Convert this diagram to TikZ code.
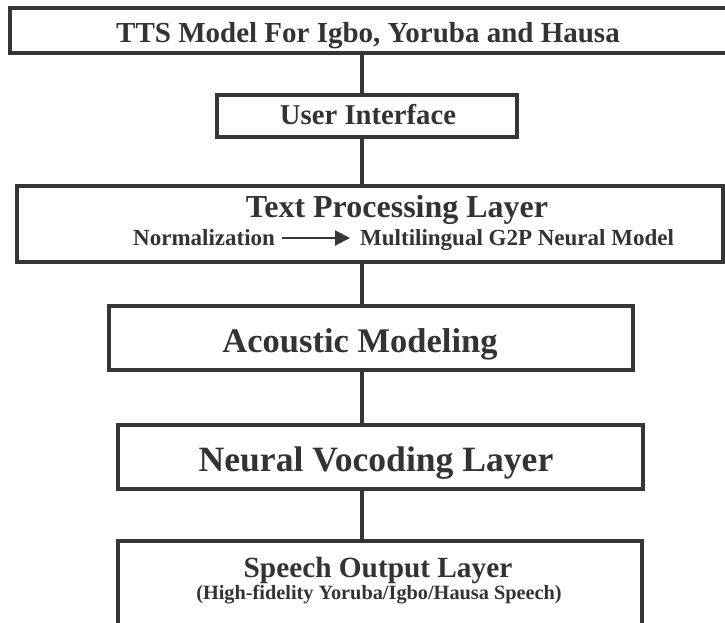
\documentclass[tikz,border=0pt]{standalone}
\usepackage{fontspec}
\setmainfont{Liberation Serif}
\usetikzlibrary{arrows.meta,calc}
\definecolor{ink}{HTML}{333333}
\definecolor{edge}{HTML}{363636}
\newcommand{\fsz}[1]{\fontsize{#1}{#1}\selectfont\bfseries}
\begin{document}
\begin{tikzpicture}[x=1pt,y=-1pt,
  box/.style={draw=edge,line width=3.2pt,fill=white,outer sep=0pt,inner sep=0pt,anchor=north west},
  label/.style={text=ink,inner sep=0pt,anchor=base},
  link/.style={draw=edge,line width=3.2pt}]
  % page
  \fill[white] (0,0) rectangle (725,622);
  \useasboundingbox (0,0) rectangle (725,622);
  \begin{scope}
  \clip (0,0) rectangle (725,622);
  % the stacked layers
  \node[box,minimum width=720pt,minimum height=45pt] (top) at (10,8) {};
  \node[box,minimum width=300pt,minimum height=42pt] (ui) at (217,95) {};
  \node[box,minimum width=706pt,minimum height=76pt] (tp) at (17,186) {};
  \node[box,minimum width=524pt,minimum height=64pt] (am) at (109,306) {};
  \node[box,minimum width=525pt,minimum height=64pt] (nv) at (118,425) {};
  \node[box,minimum width=524pt,minimum height=95pt] (so) at (118,541) {};
  % vertical spine joining the layers
  \coordinate (spine) at (362,0);
  \draw[link] (spine |- top.south) -- (spine |- ui.north);
  \draw[link] (spine |- ui.south) -- (spine |- tp.north);
  \draw[link] (spine |- tp.south) -- (spine |- am.north);
  \draw[link] (spine |- am.south) -- (spine |- nv.north);
  \draw[link] (spine |- nv.south) -- (spine |- so.north);
  \end{scope}
  % titles
  \node[label] (ttop) at (368,42) {\fsz{29}TTS Model For Igbo, Yoruba and Hausa};
  \node[label] (tui) at (368,124) {\fsz{28.7}User Interface};
  \node[label] (ttp) at (397,217) {\fsz{32}Text Processing Layer};
  \node[label,anchor=base west] (norm) at (133,245) {\fsz{23}Normalization};
  \node[label,anchor=base west] (multi) at (360,245) {\fsz{23}Multilingual G2P Neural Model};
  \draw[edge,line width=2pt,-{Triangle[length=15pt,width=15pt]}]
    ([xshift=7pt,yshift=7pt]norm.base east) -- ([xshift=-10pt,yshift=7pt]multi.base west);
  \node[label] (tam) at (360,352) {\fsz{34.5}Acoustic Modeling};
  \node[label] (tnv) at (376,471) {\fsz{35.6}Neural Vocoding Layer};
  \node[label] (tso) at (378,577) {\fsz{29.3}Speech Output Layer};
  \node[label] (tsub) at (379,599) {\fsz{20.3}(High-fidelity Yoruba/Igbo/Hausa Speech)};
\end{tikzpicture}
\end{document}
